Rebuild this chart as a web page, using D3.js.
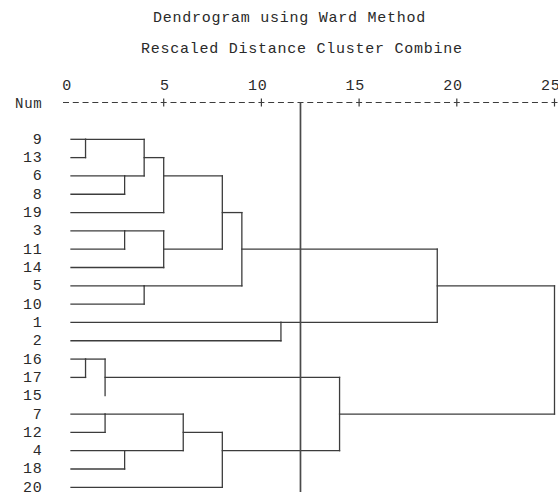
<!DOCTYPE html>
<html>
<head>
<meta charset="utf-8">
<script src="https://cdn.jsdelivr.net/npm/d3@7"></script>
<style>
  body { margin: 0; background: #fff; }
  text { font-family: "Liberation Mono", "DejaVu Sans Mono", monospace; fill: #2a2a2a; letter-spacing: 0.75px; }
</style>
</head>
<body>
<svg id="chart" width="558" height="492"></svg>
<script>
// leaf order, top to bottom
const leaves = ['9', '13', '6', '8', '19', '3', '11', '14', '5', '10',
  '1', '2', '16', '17', '15', '7', '12', '4', '18', '20'];

// agglomeration steps: [left, right, rescaled distance]; clusters are named C1..Cn in order
const merges = [
  ['9', '13', 1],
  ['6', '8', 3],
  ['C1', 'C2', 4],
  ['C3', '19', 5],
  ['3', '11', 3],
  ['C5', '14', 5],
  ['C4', 'C6', 8],
  ['5', '10', 4],
  ['C7', 'C8', 9],
  ['1', '2', 11],
  ['C9', 'C10', 19],
  ['16', '17', 1],
  ['C12', '15', 2],
  ['7', '12', 2],
  ['4', '18', 3],
  ['C14', 'C15', 6],
  ['C16', '20', 8],
  ['C13', 'C17', 14],
  ['C11', 'C18', 25]
];

const tickValues = [0, 5, 10, 15, 20, 25];
const cutDistance = 12;
// the source output prints no stub for this leaf
const leavesWithoutStub = ['15'];

const titleText = 'Dendrogram using Ward Method';
const subtitleText = 'Rescaled Distance Cluster Combine';

const svg = d3.select('#chart');
const STROKE = '#3c3c3c';
const FONT_SIZE = 15;

const x = d3.scaleLinear().domain([0, 25]).range([66, 554.5]);
const y = d3.scalePoint().domain(leaves).range([139.3, 487.3]);
const AXIS_Y = 102.5;
const LEAF_GAP = 5;

svg.append('text').attr('x', 153).attr('y', 21.5).attr('font-size', FONT_SIZE).text(titleText);
svg.append('text').attr('x', 141).attr('y', 52.5).attr('font-size', FONT_SIZE).text(subtitleText);

// tick labels, last digit sits over the tick
const axis = svg.append('g').attr('class', 'axis')
  .attr('transform', `translate(0, ${AXIS_Y - 13})`)
  .call(d3.axisTop(x).tickValues(tickValues).tickSize(0).tickPadding(0));
axis.select('.domain').remove();
axis.selectAll('text')
  .attr('font-family', '"Liberation Mono", monospace')
  .attr('font-size', FONT_SIZE)
  .attr('fill', '#2a2a2a')
  .attr('text-anchor', 'end')
  .attr('dx', 5.5)
  .attr('dy', 0);

svg.append('text').attr('x', 42.5).attr('y', AXIS_Y + 5)
  .attr('text-anchor', 'end').attr('font-size', FONT_SIZE - 1).text('Num');

// dashed rule with "+" at the ticks
const step = x(0.5) - x(0);
svg.append('line')
  .attr('x1', x(0) - 3).attr('x2', x(25) + 3)
  .attr('y1', AXIS_Y).attr('y2', AXIS_Y)
  .attr('stroke', STROKE).attr('stroke-width', 1.2)
  .attr('stroke-dasharray', `6,${step - 6}`);
svg.append('g').selectAll('line')
  .data(tickValues.filter(d => d > 0))
  .join('line')
  .attr('x1', d => x(d)).attr('x2', d => x(d))
  .attr('y1', AXIS_Y - 4).attr('y2', AXIS_Y + 4)
  .attr('stroke', STROKE).attr('stroke-width', 1.2);

// leaf labels
svg.append('g').selectAll('text')
  .data(leaves)
  .join('text')
  .attr('x', 42.5)
  .attr('y', d => y(d) + 4.5)
  .attr('text-anchor', 'end')
  .attr('font-size', FONT_SIZE)
  .text(d => d);

// build node positions: row index and distance level
const nodes = new Map();
leaves.forEach((name, i) => nodes.set(name, { row: i, dist: 0, leaf: true, name }));
merges.forEach(([a, b, dist], i) => {
  const na = nodes.get(a), nb = nodes.get(b);
  nodes.set('C' + (i + 1), { row: Math.floor((na.row + nb.row) / 2), dist, leaf: false });
});

const rowY = r => y(leaves[r]);
const startX = n => n.leaf ? x(0) + LEAF_GAP : x(n.dist);

const hSegs = [];
const vSegs = [];
merges.forEach(([a, b, dist]) => {
  [a, b].forEach(c => {
    const n = nodes.get(c);
    if (n.leaf && leavesWithoutStub.includes(n.name)) return;
    hSegs.push({ x1: startX(n), x2: x(dist), y: rowY(n.row) });
  });
  vSegs.push({ x: x(dist), y1: rowY(nodes.get(a).row), y2: rowY(nodes.get(b).row) });
});

const tree = svg.append('g').attr('class', 'tree')
  .attr('stroke', STROKE).attr('stroke-width', 1.3).attr('stroke-linecap', 'square');
tree.selectAll('.h').data(hSegs).join('line').attr('class', 'h')
  .attr('x1', d => d.x1).attr('x2', d => d.x2)
  .attr('y1', d => d.y).attr('y2', d => d.y);
tree.selectAll('.v').data(vSegs).join('line').attr('class', 'v')
  .attr('x1', d => d.x).attr('x2', d => d.x)
  .attr('y1', d => d.y1).attr('y2', d => d.y2);

// cut line
svg.append('line')
  .attr('x1', x(cutDistance)).attr('x2', x(cutDistance))
  .attr('y1', AXIS_Y).attr('y2', 492)
  .attr('stroke', '#4a4a4a').attr('stroke-width', 1.7);
</script>
</body>
</html>
